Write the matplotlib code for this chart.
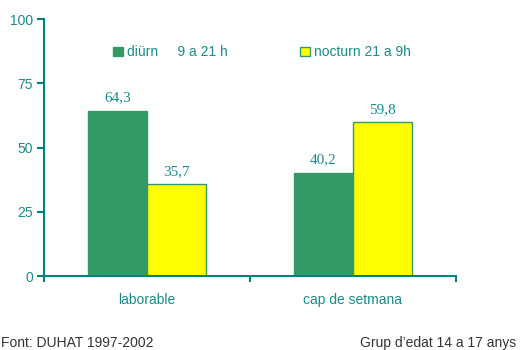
import numpy as np
import matplotlib.pyplot as plt

categories = ['laborable', 'cap de setmana']
diurn = [64.3, 40.2]
nocturn = [35.7, 59.8]
labels = ['diürn     9 a 21 h', 'nocturn 21 a 9h']
yticks = [0, 25, 50, 75, 100]

teal = '#008080'
txt = '#1a8a8a'
green = '#339966'
yellow = '#ffff00'

plt.rcParams['font.family'] = ['Liberation Sans', 'DejaVu Sans']

fig = plt.figure(figsize=(5.21, 3.5), dpi=100)
ax = fig.add_axes([0.0845, 0.2114, 0.7905, 0.7343])

x = np.arange(len(categories))
w = 0.286
b1 = ax.bar(x - w / 2, diurn, w, color=green, edgecolor=green, linewidth=1, label=labels[0])
b2 = ax.bar(x + w / 2, nocturn, w, color=yellow, edgecolor=green, linewidth=1, label=labels[1])

for bars, vals in ((b1, diurn), (b2, nocturn)):
    for r, v in zip(bars, vals):
        ax.text(r.get_x() + r.get_width() / 2, v + 2.5, f'{v:.1f}'.replace('.', ','),
                ha='center', va='bottom', fontsize=11, color=txt, family='Liberation Serif')

ax.set_xlim(-0.5, 1.5)
ax.set_ylim(0, 100)
ax.set_yticks(yticks)
ax.set_yticklabels([str(t) for t in yticks], family='Liberation Sans')
ax.set_xticks([-0.5, 0.5, 1.5])
ax.set_xticklabels([])
ax.set_xticks(x, minor=True)
ax.set_xticklabels(categories, minor=True)
ax.tick_params(axis='x', which='minor', length=0, pad=12, labelsize=10, labelcolor=txt)
ax.tick_params(axis='x', which='major', length=4, width=1.5, color=teal, direction='out')
ax.tick_params(axis='y', length=5, width=1.5, color=teal, labelsize=10, labelcolor=txt, pad=3)

for s in ['top', 'right']:
    ax.spines[s].set_visible(False)
for s in ['left', 'bottom']:
    ax.spines[s].set_color(teal)
    ax.spines[s].set_linewidth(1.5)

leg = ax.legend(loc='upper left', bbox_to_anchor=(0.155, 0.92), ncol=2, frameon=False,
                handlelength=0.7, handleheight=0.6, handletextpad=0.3, columnspacing=5.2,
                fontsize=10, labelcolor=txt, borderaxespad=0)

fig.text(0.002, 0.0, 'Font: DUHAT 1997-2002', fontsize=10, color='#333333', ha='left', va='bottom')
fig.text(0.99, 0.0, 'Grup d\u2019edat 14 a 17 anys', fontsize=10, color='#333333', ha='right', va='bottom')

fig.savefig('out.png', dpi=100)
